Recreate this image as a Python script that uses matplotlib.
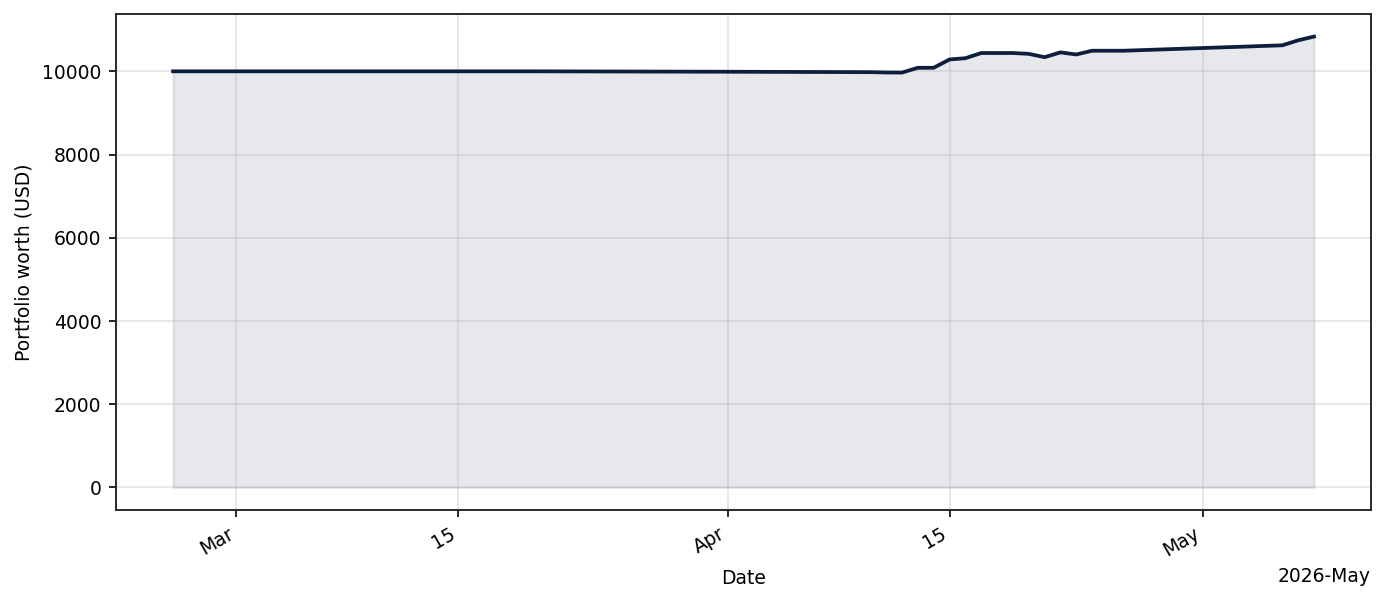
import matplotlib
matplotlib.use("Agg")
import matplotlib.pyplot as plt
import matplotlib.dates as mdates
import pandas as pd

dates = ["2026-02-25", "2026-03-20", "2026-04-01", "2026-04-10", "2026-04-11",
         "2026-04-12", "2026-04-13", "2026-04-14", "2026-04-15", "2026-04-16",
         "2026-04-17", "2026-04-18", "2026-04-19", "2026-04-20", "2026-04-21",
         "2026-04-22", "2026-04-23", "2026-04-24", "2026-04-25", "2026-04-26",
         "2026-05-06", "2026-05-07", "2026-05-08"]
values = [10000, 10000, 9990, 9980, 9972,
          9970, 10085, 10085, 10285, 10315,
          10440, 10440, 10440, 10420, 10340,
          10455, 10405, 10495, 10495, 10495,
          10625, 10745, 10835]

x = pd.to_datetime(dates)
line_color = "#0d1f3c"

plt.rcParams['font.family'] = ['DejaVu Sans']
plt.rcParams['font.size'] = 9

DPI = 150
fig = plt.figure(figsize=(1385 / DPI, 602 / DPI), dpi=DPI)
ax = fig.add_axes([0.0838, 0.1528, 0.9899 - 0.0838, 0.9767 - 0.1528])

ax.plot(x, values, color=line_color, linewidth=1.8)
ax.fill_between(x, 0, values, color=line_color, alpha=0.1)

locator = mdates.AutoDateLocator()
ax.xaxis.set_major_locator(locator)
ax.xaxis.set_major_formatter(mdates.ConciseDateFormatter(locator))
for lbl in ax.get_xticklabels():
    lbl.set_rotation(30)
    lbl.set_horizontalalignment('right')

ax.grid(True, color="#b0b0b0", alpha=0.35, linewidth=0.8)
for s in ax.spines.values():
    s.set_color("#222222")
    s.set_linewidth(0.9)

ax.set_xlabel("Date")
ax.set_ylabel("Portfolio worth (USD)")

fig.savefig("out.png", dpi=DPI)
